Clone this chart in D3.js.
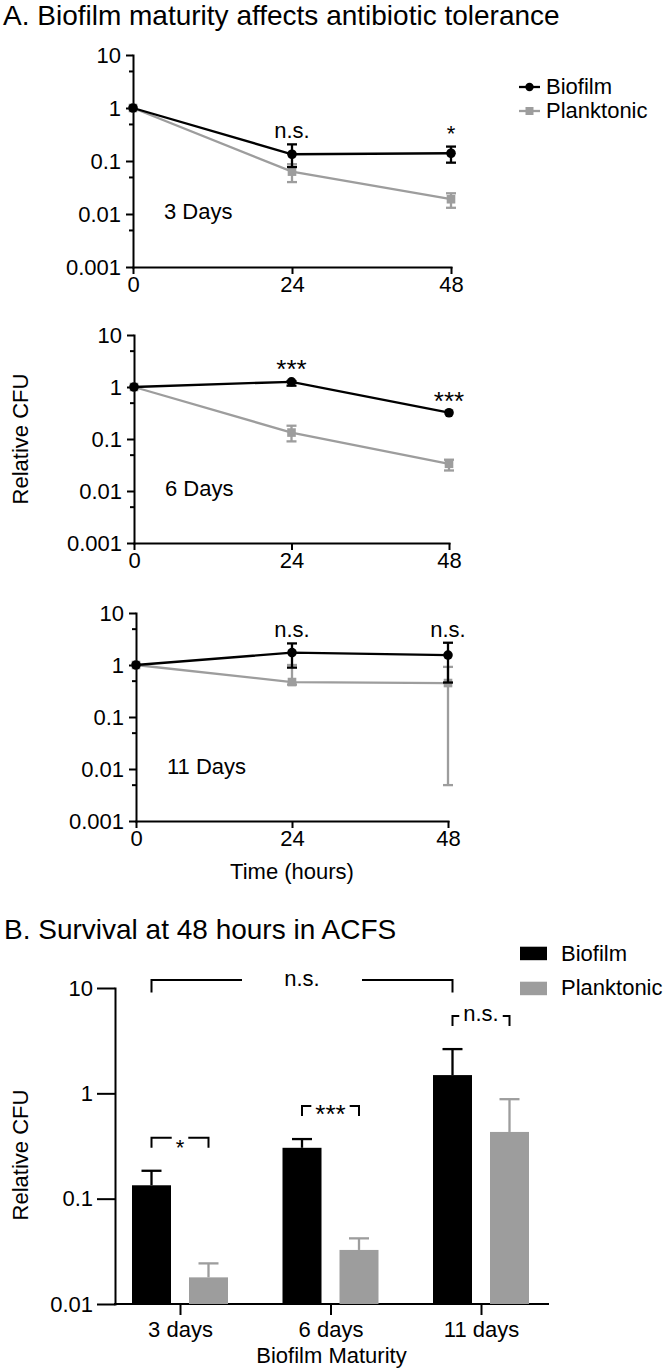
<!DOCTYPE html>
<html><head><meta charset="utf-8">
<script src="https://cdn.jsdelivr.net/npm/d3@7"></script>
<style>
body{margin:0;background:#fff;}
svg{display:block;font-family:"Liberation Sans",Arial,Helvetica,sans-serif;}
</style></head><body>
<svg id="c" width="666" height="1371"></svg>
<script>
// ---------- DATA ----------
const hours = [0, 24, 48];
const yTickValues = [0.001, 0.01, 0.1, 1, 10];
const yTickLabels = ["0.001", "0.01", "0.1", "1", "10"];
const yMinorValues = [0.005, 0.05, 0.5, 5];
const dayLabels = ["3 Days", "6 Days", "11 Days"];
const seriesNames = ["Biofilm", "Planktonic"];

// Panel A – 3 days
const bio3 = [1, 0.134, 0.14], bio3Hi = [1, 0.206, 0.187], bio3Lo = [1, 0.077, 0.093];
const pla3 = [1, 0.063, 0.019], pla3Hi = [1, 0.087, 0.0246], pla3Lo = [1, 0.040, 0.0131];
const sig3 = ["", "n.s.", "*"];
// Panel A – 6 days
const bio6 = [1, 1.26, 0.32], bio6Hi = [1, 1.30, 0.32], bio6Lo = [1, 1.06, 0.32];
const pla6 = [1, 0.133, 0.0334], pla6Hi = [1, 0.18, 0.040], pla6Lo = [1, 0.09, 0.0248];
const sig6 = ["", "***", "***"];
// Panel A – 11 days
const bio11 = [1, 1.73, 1.55], bio11Hi = [1, 2.6, 2.68], bio11Lo = [1, 0.89, 0.46];
const pla11 = [1, 0.47, 0.45], pla11Hi = [1, 1.0, 0.92], pla11Lo = [1, 0.42, 0.0049];
const sig11 = ["", "n.s.", "n.s."];

// Panel B – survival at 48 h
const bCategories = ["3 days", "6 days", "11 days"];
const bBiofilm = [0.134, 0.304, 1.49];
const bBiofilmHi = [0.184, 0.368, 2.63];
const bPlanktonic = [0.0179, 0.0326, 0.43];
const bPlanktonicHi = [0.0243, 0.042, 0.88];
const bSig = ["*", "***", "n.s."];
const bOverallSig = "n.s.";
const bYTicks = [0.01, 0.1, 1, 10];
const bYLabels = ["0.01", "0.1", "1", "10"];

// ---------- STYLE ----------
const BLACK = "#000";
const GREY = "#9d9d9d";
const FS = 22;
const sigSize = t => (t === "***" ? 26 : FS);

const svg = d3.select("#c");

function styleAxis(g) {
  g.attr("font-size", FS).attr("font-family", null);
  g.selectAll("path.domain").attr("stroke", BLACK).attr("stroke-width", 2).attr("stroke-linecap", "square");
  g.selectAll(".tick line").attr("stroke", BLACK).attr("stroke-width", 2);
  g.selectAll(".tick text").attr("fill", BLACK);
}

// Titles
svg.append("text").attr("x", 3).attr("y", 25).attr("font-size", 28)
  .text("A. Biofilm maturity affects antibiotic tolerance");
svg.append("text").attr("x", 4).attr("y", 939).attr("font-size", 28)
  .text("B. Survival at 48 hours in ACFS");

// ---------- PANEL A ----------
const panelsA = [
  {bio: bio3, bioHi: bio3Hi, bioLo: bio3Lo, pla: pla3, plaHi: pla3Hi, plaLo: pla3Lo, sig: sig3, label: dayLabels[0],
   top: 55, bottom: 267, left: 133, right: 451},
  {bio: bio6, bioHi: bio6Hi, bioLo: bio6Lo, pla: pla6, plaHi: pla6Hi, plaLo: pla6Lo, sig: sig6, label: dayLabels[1],
   top: 335, bottom: 543, left: 134, right: 449},
  {bio: bio11, bioHi: bio11Hi, bioLo: bio11Lo, pla: pla11, plaHi: pla11Hi, plaLo: pla11Lo, sig: sig11, label: dayLabels[2],
   top: 613, bottom: 821, left: 136, right: 448}
];

panelsA.forEach(p => {
  const x = d3.scaleLinear().domain([0, 48]).range([p.left, p.right]);
  const y = d3.scaleLog().domain([0.001, 10]).range([p.bottom, p.top]);
  const g = svg.append("g");

  g.append("g").attr("transform", `translate(${p.left},0)`)
    .call(d3.axisLeft(y).tickValues(yMinorValues).tickSize(4).tickFormat(""))
    .call(styleAxis).call(s => s.select(".domain").remove());
  g.append("g").attr("transform", `translate(${p.left},0)`)
    .call(d3.axisLeft(y).tickValues(yTickValues).tickFormat((d, i) => yTickLabels[i]).tickSize(7).tickSizeOuter(0).tickPadding(5))
    .call(styleAxis);
  g.append("g").attr("transform", `translate(0,${p.bottom})`)
    .call(d3.axisBottom(x).tickValues(hours).tickSize(7).tickSizeOuter(0).tickPadding(2))
    .call(styleAxis);

  const line = d3.line().x((d, i) => x(hours[i])).y(d => y(d));
  const series = [
    {vals: p.pla, hi: p.plaHi, lo: p.plaLo, color: GREY, shape: "square"},
    {vals: p.bio, hi: p.bioHi, lo: p.bioLo, color: BLACK, shape: "circle"}
  ];
  series.forEach(s => {
    g.append("path").attr("d", line(s.vals)).attr("fill", "none")
      .attr("stroke", s.color).attr("stroke-width", 2.3);
    s.vals.forEach((v, i) => {
      const cx = x(hours[i]);
      if (s.hi[i] !== s.lo[i]) {
        g.append("line").attr("x1", cx).attr("x2", cx).attr("y1", y(s.lo[i])).attr("y2", y(s.hi[i]))
          .attr("stroke", s.color).attr("stroke-width", 2.3);
        [s.lo[i], s.hi[i]].forEach(e => {
          g.append("line").attr("x1", cx - 5).attr("x2", cx + 5).attr("y1", y(e)).attr("y2", y(e))
            .attr("stroke", s.color).attr("stroke-width", 2.3);
        });
      }
      if (s.shape === "circle") {
        g.append("circle").attr("cx", cx).attr("cy", y(v)).attr("r", 4.8).attr("fill", s.color);
      } else {
        g.append("rect").attr("x", cx - 4.3).attr("y", y(v) - 4.3).attr("width", 8.6).attr("height", 8.6).attr("fill", s.color);
      }
    });
  });

  // significance labels
  p.sig.forEach((t, i) => {
    if (!t) return;
    const top = Math.max(p.bioHi[i], p.plaHi[i], p.bio[i], p.pla[i]);
    g.append("text").attr("x", x(hours[i])).attr("y", y(top) - (t === "***" ? 3 : 6))
      .attr("text-anchor", "middle").attr("font-size", sigSize(t)).text(t);
  });

  g.append("text").attr("x", x(0) + 31).attr("y", y(0.01) + 5).attr("font-size", FS).text(p.label);
});

// Panel A legend
const legA = svg.append("g");
[[87, BLACK, "circle", seriesNames[0], 94], [111, GREY, "square", seriesNames[1], 118]].forEach(([cy, col, shape, name, by]) => {
  legA.append("line").attr("x1", 519).attr("x2", 540).attr("y1", cy).attr("y2", cy).attr("stroke", col).attr("stroke-width", 2.3);
  if (shape === "circle") legA.append("circle").attr("cx", 529.5).attr("cy", cy).attr("r", 4.2).attr("fill", col);
  else legA.append("rect").attr("x", 525.5).attr("y", cy - 4).attr("width", 8).attr("height", 8).attr("fill", col);
  legA.append("text").attr("x", 546).attr("y", by).attr("font-size", FS).text(name);
});

// Y label & x label for A
svg.append("text").attr("transform", "translate(28,439) rotate(-90)").attr("text-anchor", "middle")
  .attr("font-size", FS).text("Relative CFU");
svg.append("text").attr("x", 292).attr("y", 879).attr("text-anchor", "middle")
  .attr("font-size", FS).text("Time (hours)");

// ---------- PANEL B ----------
const yB = d3.scaleLog().domain([0.01, 10]).range([1304, 988]);
const xB = d3.scalePoint().domain(bCategories).range([180, 481]);
const sub = d3.scaleBand().domain(seriesNames).range([-48, 48]).paddingInner(18 / 57);
const bw = sub.bandwidth();
const gB = svg.append("g");

gB.append("g").attr("transform", "translate(115,0)")
  .call(d3.axisLeft(yB).tickValues(bYTicks).tickFormat((d, i) => bYLabels[i]).tickSize(18).tickSizeOuter(0).tickPadding(4))
  .call(styleAxis);
gB.append("g").attr("transform", "translate(0,1304)")
  .call(d3.axisBottom(xB).tickSize(11).tickSizeOuter(0).tickPadding(6))
  .call(styleAxis).call(s => s.select(".domain").remove());
gB.append("line").attr("x1", 115).attr("x2", 548).attr("y1", 1304).attr("y2", 1304)
  .attr("stroke", BLACK).attr("stroke-width", 2).attr("stroke-linecap", "square");

const bSeries = [
  {name: seriesNames[0], vals: bBiofilm, hi: bBiofilmHi, color: BLACK},
  {name: seriesNames[1], vals: bPlanktonic, hi: bPlanktonicHi, color: GREY}
];
bSeries.forEach(s => {
  s.vals.forEach((v, i) => {
    const x0 = xB(bCategories[i]) + sub(s.name);
    const cx = x0 + bw / 2;
    gB.append("line").attr("x1", cx).attr("x2", cx).attr("y1", yB(v)).attr("y2", yB(s.hi[i]))
      .attr("stroke", s.color).attr("stroke-width", 2.3);
    gB.append("line").attr("x1", cx - 10).attr("x2", cx + 10).attr("y1", yB(s.hi[i])).attr("y2", yB(s.hi[i]))
      .attr("stroke", s.color).attr("stroke-width", 2.3);
    gB.append("rect").attr("x", x0).attr("y", yB(v)).attr("width", bw)
      .attr("height", yB(0.01) - yB(v)).attr("fill", s.color);
  });
});

function bracket(x1, x2, ly, leg, label, halfGap, dyText) {
  const mid = (x1 + x2) / 2;
  const t = gB.append("text").attr("x", mid).attr("y", ly + dyText).attr("text-anchor", "middle")
    .attr("font-size", sigSize(label)).text(label);
  const hg = halfGap != null ? halfGap : t.node().getComputedTextLength() / 2 + 4;
  gB.append("path").attr("d", `M${x1},${ly + leg}V${ly}H${mid - hg}M${mid + hg},${ly}H${x2}V${ly + leg}`)
    .attr("fill", "none").attr("stroke", BLACK).attr("stroke-width", 2);
}
bCategories.forEach((c, i) => {
  const x1 = xB(c) + sub(seriesNames[0]) + bw / 2;
  const x2 = xB(c) + sub(seriesNames[1]) + bw / 2;
  const ly = yB(Math.max(bBiofilmHi[i], bPlanktonicHi[i])) - 33;
  const isStar = bSig[i].indexOf("*") >= 0;
  bracket(x1, x2, ly, 10, bSig[i], null, isStar ? 17 : 5);
});
{
  const x1 = xB(bCategories[0]) + sub(seriesNames[0]) + bw / 2;
  const x2 = xB(bCategories[2]) + sub(seriesNames[0]) + bw / 2;
  bracket(x1, x2, yB(10) - 8, 12.5, bOverallSig, 60, 6);
}

// Panel B legend
[[946.7, BLACK, seriesNames[0], 960.5], [981.7, GREY, seriesNames[1], 995]].forEach(([ry, col, name, by]) => {
  gB.append("rect").attr("x", 520).attr("y", ry).attr("width", 27).attr("height", 13.5).attr("fill", col);
  gB.append("text").attr("x", 561).attr("y", by).attr("font-size", FS).text(name);
});

svg.append("text").attr("transform", "translate(28,1155) rotate(-90)").attr("text-anchor", "middle")
  .attr("font-size", FS).text("Relative CFU");
svg.append("text").attr("x", 331.5).attr("y", 1363).attr("text-anchor", "middle")
  .attr("font-size", FS).text("Biofilm Maturity");
</script>
</body></html>
